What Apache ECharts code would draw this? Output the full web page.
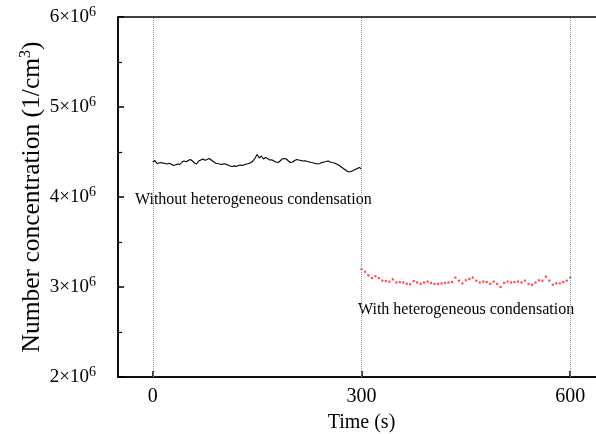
<!DOCTYPE html>
<html>
<head>
<meta charset="utf-8">
<script src="https://cdn.jsdelivr.net/npm/echarts@6/dist/echarts.min.js"></script>
<style>
  html, body { margin: 0; padding: 0; background: #fff; }
  #chart { width: 596px; height: 434px; }
</style>
</head>
<body>
<div id="chart"></div>
<script>
// Number concentration (units of 10^6 per cm^3)
// Without heterogeneous condensation: sampled every 3 s from 0 to 300 s
var withoutStep = 3;
var withoutConc = [
  4.389, 4.406, 4.372, 4.378, 4.383, 4.376, 4.372, 4.367, 4.374, 4.361,
  4.350, 4.358, 4.367, 4.361, 4.389, 4.400, 4.392, 4.406, 4.417, 4.400,
  4.378, 4.367, 4.400, 4.411, 4.422, 4.409, 4.417, 4.428, 4.411, 4.394,
  4.378, 4.372, 4.367, 4.361, 4.369, 4.365, 4.356, 4.344, 4.339, 4.346,
  4.339, 4.350, 4.356, 4.350, 4.361, 4.367, 4.372, 4.383, 4.400, 4.433,
  4.472, 4.433, 4.456, 4.422, 4.439, 4.428, 4.411, 4.413, 4.400, 4.389,
  4.383, 4.400, 4.422, 4.428, 4.422, 4.400, 4.383, 4.389, 4.406, 4.417,
  4.411, 4.406, 4.400, 4.402, 4.394, 4.389, 4.383, 4.378, 4.372, 4.367,
  4.372, 4.383, 4.389, 4.394, 4.400, 4.389, 4.383, 4.378, 4.367, 4.356,
  4.339, 4.322, 4.306, 4.289, 4.278, 4.283, 4.294, 4.306, 4.317, 4.328,
  4.311
];
// With heterogeneous condensation: sampled every 5 s from 300 to 600 s
var withStart = 300;
var withStep = 5;
var withConc = [
  3.200, 3.170, 3.130, 3.100, 3.120, 3.100, 3.070, 3.065, 3.060, 3.085,
  3.050, 3.055, 3.050, 3.035, 3.030, 3.065, 3.050, 3.035, 3.050, 3.060,
  3.045, 3.035, 3.035, 3.040, 3.045, 3.050, 3.055, 3.105, 3.070, 3.040,
  3.075, 3.090, 3.105, 3.070, 3.050, 3.060, 3.055, 3.035, 3.060, 3.035,
  3.000, 3.045, 3.060, 3.050, 3.055, 3.060, 3.050, 3.070, 3.035, 3.025,
  3.050, 3.075, 3.070, 3.115, 3.070, 3.025, 3.040, 3.040, 3.055, 3.070,
  3.105
];
var xTicks = [0, 300, 600];

var withoutData = withoutConc.map(function (v, i) { return [i * withoutStep, v]; });
var withData = withConc.map(function (v, i) { return [withStart + i * withStep, v]; });

var serif = '"Liberation Serif", "Times New Roman", serif';

var chart = echarts.init(document.getElementById('chart'), null, { renderer: 'canvas' });
chart.setOption({
  animation: false,
  backgroundColor: '#fff',
  grid: {
    left: 118, top: 17, width: 487, height: 360,
    show: true, borderColor: '#000', borderWidth: 1.5,
    containLabel: false, outerBoundsMode: 'none'
  },
  xAxis: {
    type: 'value', min: -50, max: 650,
    name: 'Time (s)', nameLocation: 'middle', nameGap: 36,
    nameTextStyle: { fontFamily: serif, fontSize: 20, color: '#000' },
    axisLine: { onZero: false, lineStyle: { color: '#000', width: 1.5 } },
    axisTick: { inside: true, length: 6, customValues: xTicks, lineStyle: { color: '#000', width: 1.5 } },
    axisLabel: { customValues: xTicks, fontFamily: serif, fontSize: 20, color: '#000', margin: 10 },
    splitLine: { show: false }
  },
  yAxis: {
    type: 'value', min: 2, max: 6, interval: 1,
    name: '{a|Number concentration (1/cm}{s|3}{a|)}', nameLocation: 'middle', nameGap: 71,
    nameMoveOverlap: false,
    nameTextStyle: {
      rich: {
        a: { fontFamily: serif, fontSize: 25.5, color: '#000' },
        s: { fontFamily: serif, fontSize: 16, color: '#000', verticalAlign: 'bottom', padding: [0, 0, 13, 0] }
      }
    },
    axisLine: { onZero: false, lineStyle: { color: '#000', width: 1.5 } },
    axisTick: { inside: true, length: 6, lineStyle: { color: '#000', width: 1.5 } },
    minorTick: { show: true, splitNumber: 2, length: 4, lineStyle: { color: '#000', width: 1.2 } },
    axisLabel: {
      margin: 22,
      formatter: function (v) { return '{a|' + v + '×10}{s|6}'; },
      rich: {
        a: { fontFamily: serif, fontSize: 19, color: '#000' },
        s: { fontFamily: serif, fontSize: 14, color: '#000', verticalAlign: 'bottom', padding: [0, 0, 9, 0] }
      }
    },
    splitLine: { show: false }
  },
  series: [
    {
      name: 'Without heterogeneous condensation',
      type: 'line', data: withoutData, showSymbol: false,
      lineStyle: { color: '#000', width: 1.1 },
      markLine: {
        silent: true, symbol: 'none', label: { show: false },
        lineStyle: { color: '#999', type: 'dotted', width: 1 },
        data: xTicks.map(function (t) { return { xAxis: t }; })
      },
      z: 3
    },
    {
      name: 'With heterogeneous condensation',
      type: 'scatter', data: withData, symbol: 'rect', symbolSize: 2.2,
      itemStyle: { color: '#ff2020' }, z: 3
    }
  ],
  graphic: [
    { type: 'text', left: 135, top: 192, style: { text: 'Without heterogeneous condensation', font: '16px ' + serif, fill: '#000' } },
    { type: 'text', left: 358, top: 302, style: { text: 'With heterogeneous condensation', font: '16px ' + serif, fill: '#000' } }
  ]
});
</script>
</body>
</html>
